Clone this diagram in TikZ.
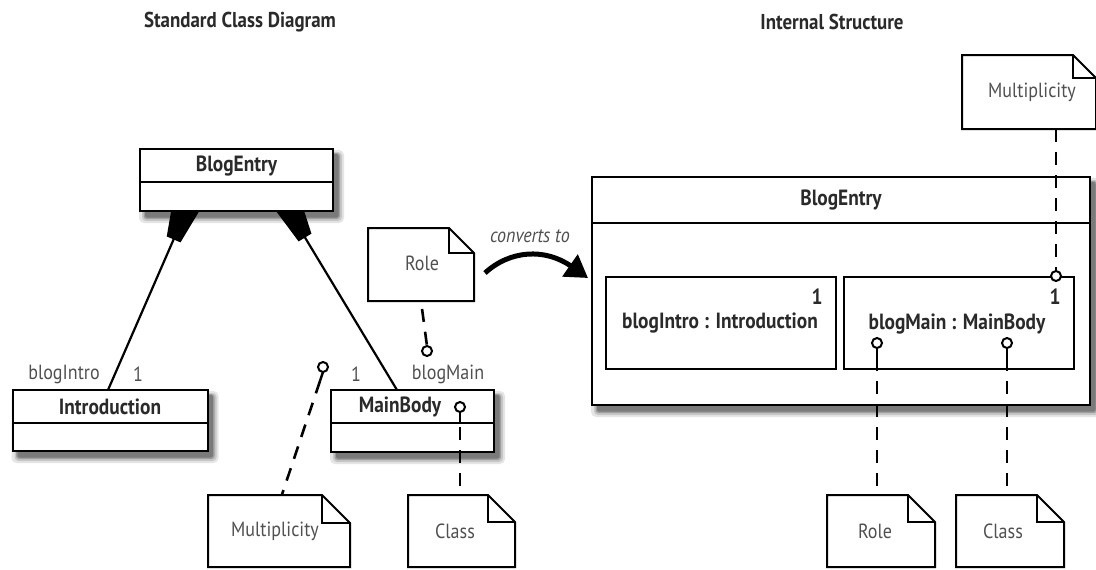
\documentclass[tikz,border=0pt]{standalone}
\usepackage{fontspec}
\setmainfont{PT Sans}[FakeStretch=0.88]
\usetikzlibrary{calc,arrows.meta}
\definecolor{txt}{HTML}{2A2A2A}
\definecolor{ntxt}{HTML}{505050}
\tikzset{
  every node/.style={outer sep=0pt,inner sep=0pt},
  frame/.style={draw=none},
  boxline/.style={draw=black,line width=2pt,fill=white},
  cname/.style={font=\fontsize{22}{24}\selectfont\bfseries,text=txt},
  lbl/.style={font=\fontsize{20.5}{22}\selectfont,text=ntxt},
  notetxt/.style={font=\fontsize{20.5}{22}\selectfont,text=ntxt},
  ttl/.style={font=\fontsize{21.5}{23}\selectfont\bfseries,text=txt},
  lolli/.style={circle,draw=black,line width=2pt,fill=white,minimum size=10pt},
  dashline/.style={line width=2.6pt,dash pattern=on 13pt off 10pt},
  compline/.style={line width=2.2pt},
  noteline/.style={line width=2pt,line join=miter},
}
% soft shadow behind a frame node
\newcommand\softshadow[1]{%
  \fill[black!10,rounded corners=5pt] ([xshift=-1pt,yshift=-12pt]#1.south west) rectangle ([xshift=11pt,yshift=-1pt]#1.north east);
  \fill[black!22,rounded corners=4pt] ([xshift=2pt,yshift=-10pt]#1.south west) rectangle ([xshift=9pt,yshift=-3pt]#1.north east);
  \fill[black!38,rounded corners=3pt] ([xshift=3.5pt,yshift=-8pt]#1.south west) rectangle ([xshift=7pt,yshift=-4pt]#1.north east);
  \fill[black!52,rounded corners=2pt] ([xshift=5pt,yshift=-6.5pt]#1.south west) rectangle ([xshift=5.5pt,yshift=-5pt]#1.north east);}
\newcommand\boxof[1]{\draw[boxline] (#1.south west) rectangle (#1.north east);}
\newcommand\drawnote[2]{%
  \draw[noteline,fill=white] (#1.south west) -- (#1.north west) -- ([xshift=-#2]#1.north east)
     -- ([yshift=-#2]#1.north east) -- (#1.south east) -- cycle;
  \draw[noteline] ([xshift=-#2]#1.north east) -- ([xshift=-#2,yshift=-#2]#1.north east) -- ([yshift=-#2]#1.north east);}
% composition diamond (lower half visible below the box): #1 = point at box edge, #2 = far end of line
\newcommand\compdiamond[2]{%
  \coordinate (db) at ($(#1)!31pt!(#2)$);
  \fill ([xshift=-14.5pt,yshift=2pt]#1) -- ([xshift=14.5pt,yshift=2pt]#1) -- ($(db)!7.5pt!90:(#2)$) -- ($(db)!7.5pt!-90:(#2)$) -- cycle;}
\begin{document}
\begin{tikzpicture}[x=1pt,y=-1pt]
\useasboundingbox[fill=white] (0,0) rectangle (1096,570);

% titles
\node[ttl] (t1) at (240,22) {Standard Class Diagram};
\node[ttl] (t2) at (832,22) {Internal Structure};

% ---------- left: standard class diagram ----------
\node[frame,minimum width=193pt,minimum height=62pt] (be) at (236.5,180) {};
\node[frame,minimum width=195pt,minimum height=61pt] (intro) at (110,420.5) {};
\node[frame,minimum width=163pt,minimum height=62pt] (mb) at (412.5,421) {};

\softshadow{be}
\softshadow{intro}
\softshadow{mb}

\coordinate (c1) at (186,211);
\coordinate (e1) at (108,390);
\coordinate (c2) at (289,211);
\coordinate (e2) at (397,390);
\draw[compline] (c1) -- (e1);
\draw[compline] (c2) -- (e2);
\compdiamond{c1}{e1}
\compdiamond{c2}{e2}

\boxof{be}
\draw[line width=2pt] (be.west |- 0,182) -- (be.east |- 0,182);
\node[cname] (bet) at (236.5,166) {BlogEntry};

\boxof{intro}
\draw[line width=2pt] (intro.west |- 0,423) -- (intro.east |- 0,423);
\node[cname] (introt) at (110,407) {Introduction};

\boxof{mb}
\draw[line width=2pt] (mb.west |- 0,423) -- (mb.east |- 0,423);
\node[cname] (mbt) at (400,407) {MainBody};

\node[lbl] (lbi) at (64,374) {blogIntro};
\node[lbl] (l1a) at (138,374) {1};
\node[lbl] (l1b) at (356,374) {1};
\node[lbl] (lbm) at (448,374) {blogMain};

% notes left
\node[frame,minimum width=106pt,minimum height=73pt] (role1) at (421,264.5) {};
\drawnote{role1}{25pt}
\node[notetxt] (role1t) at (422,263) {Role};

\node[frame,minimum width=142pt,minimum height=72pt] (mult1) at (279,531) {};
\drawnote{mult1}{28pt}
\node[notetxt] (mult1t) at (275,531) {Multiplicity};

\node[frame,minimum width=107pt,minimum height=72pt] (cls1) at (461.5,531) {};
\drawnote{cls1}{27pt}
\node[notetxt] (cls1t) at (455,531) {Class};

% lollipops left
\node[lolli] (lr) at (427,351) {};
\draw[dashline,dash phase=-8pt] (role1.south -| 421,0) -- (lr.north);

\node[lolli] (lm) at (323,367) {};
\draw[line width=2.4pt] (lm.south) -- ++(-3,9) coordinate (lms);
\draw[dashline] (lms) -- ($(mult1.north west)!0.52!(mult1.north east)$);

\node[lolli] (lc) at (460,407) {};
\draw[line width=2.4pt] (lc.south) -- (460,423) coordinate (lcs);
\draw[dashline,dash phase=-4pt] (lcs) -- (cls1.north -| lcs);

% converts to arrow
\coordinate (a0) at (485,273);
\coordinate (a1) at (588,278);
\draw[line width=5pt,-{Triangle[length=22pt,width=26pt]}] (a0) .. controls (510,250) and (545,248) .. (a1);
\node[font=\fontsize{20.5}{22}\selectfont\itshape,text=ntxt] (conv) at (530,236) {converts to};

% ---------- right: internal structure ----------
\node[frame,minimum width=498pt,minimum height=228pt] (be2) at (841,291) {};
\softshadow{be2}
\boxof{be2}
\draw[line width=2pt] (be2.west |- 0,223) -- (be2.east |- 0,223);
\node[cname] (be2t) at (841,200) {BlogEntry};

\node[frame,minimum width=230pt,minimum height=92pt] (p1) at (721,323) {};
\boxof{p1}
\node[cname] (p1t) at (720,323) {blogIntro : Introduction};
\node[cname] (p1m) at (817,297) {1};

\node[frame,minimum width=230pt,minimum height=92pt] (p2) at (959,323) {};
\boxof{p2}
\node[cname] (p2t) at (957,324) {blogMain : MainBody};
\node[cname] (p2m) at (1055,297) {1};

% notes right
\node[frame,minimum width=134pt,minimum height=74pt] (mult2) at (1029,92) {};
\drawnote{mult2}{23pt}
\node[notetxt] (mult2t) at (1032,92) {Multiplicity};

\node[frame,minimum width=108pt,minimum height=72pt] (role2) at (881,531) {};
\drawnote{role2}{27pt}
\node[notetxt] (role2t) at (875,531) {Role};

\node[frame,minimum width=108pt,minimum height=72pt] (cls2) at (1010,531) {};
\drawnote{cls2}{27pt}
\node[notetxt] (cls2t) at (1003,531) {Class};

% lollipops right
\node[lolli] (lm2) at (1056,276) {};
\draw[dashline] (mult2.south -| lm2) -- (lm2.north);

\node[lolli] (lr2) at (877,343) {};
\draw[line width=2.4pt] (lr2.south) -- ++(0,10) coordinate (lr2s);
\draw[dashline] (lr2s) -- (role2.north -| lr2s);

\node[lolli] (lc2) at (1007,343) {};
\draw[line width=2.4pt] (lc2.south) -- ++(0,10) coordinate (lc2s);
\draw[dashline] (lc2s) -- (cls2.north -| lc2s);
\end{tikzpicture}
\end{document}
